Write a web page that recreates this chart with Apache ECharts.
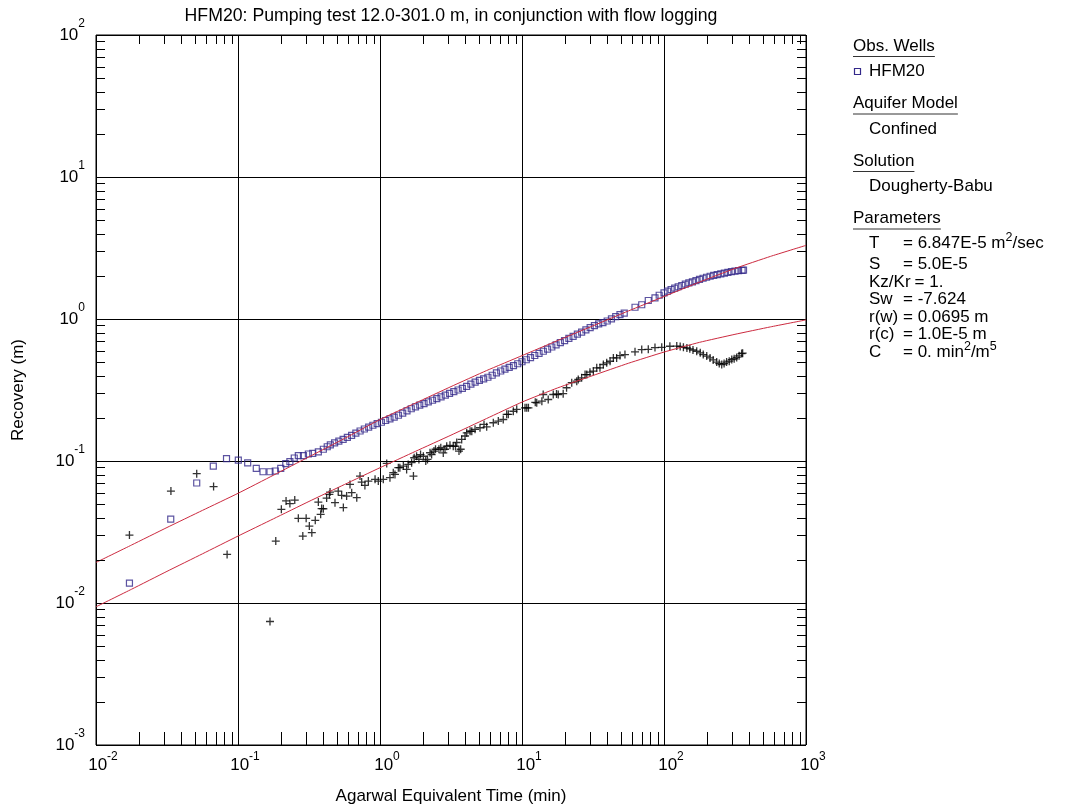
<!DOCTYPE html>
<html>
<head>
<meta charset="utf-8">
<script src="https://cdn.jsdelivr.net/npm/echarts@6/dist/echarts.min.js"></script>
<style>html,body{margin:0;padding:0;background:#fff}#chart{width:1070px;height:810px}</style>
</head>
<body>
<div id="chart"></div>
<script>
// ---------------- data ----------------
// HFM20 recovery observations: [Agarwal equivalent time (min), recovery (m)]
const hfm20Recovery = [
  [0.0172,0.0138],[0.0336,0.039],[0.0512,0.070],[0.067,0.092],[0.083,0.104],[0.1005,0.1015],
  [0.117,0.097],[0.1345,0.0887],[0.150,0.084],[0.168,0.084],[0.183,0.085],[0.200,0.0887],
  [0.217,0.0957],[0.232,0.099],[0.249,0.105],[0.266,0.109],[0.289,0.109],[0.313,0.112],
  [0.336,0.113],[0.368,0.116],[0.399,0.121],[0.425,0.126],
  [0.447,0.130],[0.479,0.134],[0.513,0.138],[0.550,0.142],[0.589,0.1466],[0.631,0.1517],
  [0.676,0.157],[0.724,0.1626],[0.776,0.168],[0.832,0.1734],[0.891,0.1786],[0.955,0.1832],
  [1.023,0.1875],[1.096,0.1928],[1.175,0.1982],[1.259,0.2037],[1.349,0.2099],[1.445,0.2173],
  [1.549,0.2254],[1.660,0.2333],[1.778,0.2404],[1.905,0.2472],[2.042,0.2535],[2.188,0.2606],
  [2.344,0.2679],[2.512,0.2754],[2.692,0.2831],[2.884,0.2911],[3.090,0.2992],[3.311,0.3076],
  [3.548,0.3162],[3.802,0.3251],[4.074,0.3357],[4.365,0.3483],[4.677,0.3597],[5.012,0.3698],
  [5.370,0.3793],[5.754,0.3890],[6.166,0.4018],[6.607,0.4169],[7.079,0.4305],[7.586,0.4436],
  [8.128,0.4560],[8.710,0.4688],[9.333,0.4842],[10.0,0.5000],[10.72,0.5164],[11.48,0.5346],
  [12.30,0.5534],[13.18,0.5728],[14.13,0.5929],[15.14,0.6138],[16.22,0.6353],[17.38,0.6577],
  [18.62,0.6808],[19.95,0.7047],[21.38,0.7295],[22.91,0.7551],[24.55,0.7816],[26.30,0.8091],
  [28.18,0.8375],[30.20,0.8690],[32.36,0.8974],[34.67,0.9226],[37.15,0.9441],[39.81,0.9683],
  [42.66,1.002],[45.71,1.038],[48.98,1.072],[52.48,1.099],
  [62.5,1.21],[69.7,1.26],[77.5,1.35],[86.4,1.41],[92.5,1.47],
  [100,1.528],[105.9,1.570],[112.2,1.614],[118.9,1.652],[125.9,1.687],[133.4,1.722],
  [141.3,1.758],[149.6,1.795],[158.5,1.828],[167.9,1.862],[177.8,1.901],[188.4,1.936],
  [199.5,1.968],[211.3,2.000],[223.9,2.028],[237.1,2.056],[251.2,2.080],[266.1,2.104],
  [281.8,2.128],[298.5,2.153],[316.2,2.173],[335.0,2.188],[354.8,2.203],[363,2.208]
];

// HFM20 recovery derivative (crosses): [time (min), derivative (m)]
const hfm20Derivative = [
  [0.0172,0.0301],[0.0337,0.0614],[0.0512,0.0814],[0.0673,0.066],[0.0838,0.0220],[0.168,0.00741],
  [0.1845,0.0273],[0.202,0.0457],[0.218,0.0523],[0.232,0.0501],[0.251,0.0531],[0.266,0.0395],
  [0.286,0.0296],[0.302,0.0395],[0.318,0.0348],[0.331,0.0313],[0.350,0.0382],[0.368,0.0514],
  [0.382,0.0421],[0.388,0.0462],[0.399,0.0461],[0.421,0.0548],[0.440,0.0582],[0.445,0.0604],
  [0.482,0.0509],[0.508,0.0614],[0.537,0.0573],[0.552,0.0470],[0.582,0.0566],[0.615,0.0684],
  [0.632,0.0598],[0.686,0.0552],[0.723,0.0783],[0.743,0.0711],[0.783,0.0673],[0.828,0.0722],
  [0.923,0.0743],[0.973,0.0722],[1.055,0.0743],[1.115,0.0962],[1.175,0.0763],[1.24,0.0828],
  [1.275,0.0805],[1.346,0.0897],[1.38,0.0897],[1.46,0.0921],[1.54,0.0873],[1.58,0.0946],
  [1.67,0.0973],[1.72,0.0783],[1.74,0.1054],[1.81,0.108],[1.88,0.1026],[1.93,0.111],
  [2.02,0.108],[2.10,0.0998],[2.16,0.1026],[2.25,0.1143],[2.31,0.111],[2.40,0.1175],
  [2.46,0.121],[2.60,0.121],[2.68,0.124],[2.79,0.114],[2.87,0.121],[2.95,0.127],
  [3.11,0.129],[3.28,0.127],[3.40,0.127],[3.47,0.135],[3.60,0.1175],[3.70,0.121],
  [3.76,0.142],[3.97,0.150],[4.08,0.158],[4.31,0.162],[4.43,0.162],[4.67,0.167],
  [5.06,0.1715],[5.40,0.181],[5.64,0.174],[6.28,0.186],[6.81,0.191],[7.38,0.196],
  [7.80,0.213],[8.01,0.213],[8.69,0.224],[9.18,0.231],[10.5,0.237],[10.8,0.237],
  [11.1,0.237],[12.4,0.259],[12.7,0.257],[13.8,0.264],[14.1,0.294],[15.3,0.271],
  [16.6,0.294],[17.5,0.296],[18.0,0.294],[19.5,0.298],[20.6,0.328],[22.4,0.356],
  [24.3,0.365],[24.9,0.375],[26.3,0.385],[27.8,0.406],[28.6,0.406],[30.1,0.422],
  [31.8,0.429],[33.6,0.453],[35.4,0.453],[37.4,0.478],[39.5,0.491],[41.7,0.504],
  [44.0,0.532],[46.4,0.532],[49.0,0.553],[53.1,0.562],[62.5,0.587],[69.7,0.609],
  [77.5,0.612],[86.4,0.629],[96.4,0.632],[110,0.643],[123,0.645],[130,0.640],
  [137,0.632],[145,0.625],[152,0.617],[160,0.605],[170,0.593],[180,0.578],
  [189,0.562],[200,0.548],[211,0.532],[222,0.515],[235,0.497],[245,0.485],
  [255,0.478],[265,0.485],[276,0.497],[288,0.505],[300,0.518],[312,0.525],
  [325,0.536],[338,0.550],[352,0.571],[358,0.575]
];

// Dougherty-Babu type curves (red), quarter-decade readings
const solutionTime = [0.01, 0.0178, 0.0316, 0.0562, 0.1, 0.178, 0.316, 0.562, 1, 1.78, 3.16, 5.62,
                      10, 17.8, 31.6, 56.2, 100, 178, 316, 562, 1000];
const solutionRecovery = [0.0193, 0.0256, 0.034, 0.0449, 0.0592, 0.0795, 0.107, 0.144, 0.196, 0.256,
                          0.334, 0.433, 0.552, 0.705, 0.895, 1.14, 1.44, 1.82, 2.27, 2.76, 3.3];
const solutionDerivative = [0.0094, 0.0125, 0.0167, 0.0222, 0.0296, 0.0392, 0.0519, 0.0683, 0.0897, 0.117,
                            0.152, 0.199, 0.260, 0.327, 0.400, 0.488, 0.585, 0.685, 0.78, 0.88, 0.985];

// axes
const xDecades = [-2, -1, 0, 1, 2, 3];
const yDecades = [-3, -2, -1, 0, 1, 2];
const minorSteps = [2, 3, 4, 5, 6, 7, 8, 9];

// side panel text
const headings = ['Obs. Wells', 'Aquifer Model', 'Solution', 'Parameters'];
const headingEntries = ['HFM20', 'Confined', 'Dougherty-Babu'];
const paramNames  = ['T', 'S', 'Kz/Kr', 'Sw', 'r(w)', 'r(c)', 'C'];
const paramValues = ['= 6.847E-5 m{s|2}/sec', '= 5.0E-5', '= 1.', '= -7.624', '= 0.0695 m', '= 1.0E-5 m', '= 0. min{s|2}/m{s|5}'];
const titleText = 'HFM20: Pumping test 12.0-301.0 m, in conjunction with flow logging';

// ---------------- chart ----------------
const F = '"Liberation Sans", Arial, Helvetica, sans-serif';
const BLUE = '#33288a';
const RED = '#cc2a3f';

const xMin = Math.pow(10, xDecades[0]), xMax = Math.pow(10, xDecades[xDecades.length - 1]);
const yMin = Math.pow(10, yDecades[0]), yMax = Math.pow(10, yDecades[yDecades.length - 1]);

const xMinor = [];
xDecades.slice(0, -1).forEach(e => minorSteps.forEach(k => xMinor.push([k * Math.pow(10, e), 1])));
const yMinor = [];
yDecades.slice(0, -1).forEach(e => minorSteps.forEach(k => yMinor.push([1, k * Math.pow(10, e)])));

function powRich(lh) {
  return {
    b: { fontSize: 17, fontFamily: F, color: '#000', lineHeight: lh, verticalAlign: 'bottom' },
    s: { fontSize: 12, fontFamily: F, color: '#000', lineHeight: 12, verticalAlign: 'top' }
  };
}
const powFmt = v => '{b|10}{s|' + Math.round(Math.log10(v)) + '}';

const canvas = document.createElement('canvas');
const mctx = canvas.getContext('2d');
function textWidth(t, size) { mctx.font = size + 'px "Liberation Sans", Arial, sans-serif'; return mctx.measureText(t).width; }

const PX = 853, PX2 = 869, EQX = 903, FS = 17;
const graphics = [];
graphics.push({ type: 'text', x: 451, y: 16, style: { text: titleText, fill: '#000', fontSize: 17.7, fontFamily: F, align: 'center', verticalAlign: 'middle' } });
const headY = [46, 103.5, 161, 218.5];
headings.forEach((h, i) => {
  const y = headY[i];
  graphics.push({ type: 'text', x: PX, y: y, style: { text: h, fill: '#000', fontSize: FS, fontFamily: F, align: 'left', verticalAlign: 'middle' } });
  const w = textWidth(h, FS);
  graphics.push({ type: 'line', shape: { x1: PX, y1: y + 10.5, x2: PX + w, y2: y + 10.5 }, style: { stroke: '#333', lineWidth: 1 } });
});
headingEntries.forEach((t, i) => {
  graphics.push({ type: 'text', x: PX2, y: headY[i] + 25.5, style: { text: t, fill: '#000', fontSize: FS, fontFamily: F, align: 'left', verticalAlign: 'middle' } });
});
// legend symbol for HFM20
graphics.push({ type: 'rect', shape: { x: 854.5, y: 68.5, width: 6, height: 6 }, style: { fill: 'none', stroke: BLUE, lineWidth: 1.2 } });

const paramY = [243, 264, 282, 299.5, 317, 334.5, 352];
const paramRich = {
  n: { fontSize: FS, fontFamily: F, color: '#000', lineHeight: 20, verticalAlign: 'bottom' },
  s: { fontSize: 12.5, fontFamily: F, color: '#000', lineHeight: 12, verticalAlign: 'top' }
};
paramNames.forEach((n, i) => {
  const y = paramY[i];
  graphics.push({ type: 'text', x: PX2, y: y, style: { text: n, fill: '#000', fontSize: FS, fontFamily: F, align: 'left', verticalAlign: 'middle' } });
  const vx = (n === 'Kz/Kr') ? PX2 + textWidth(n, FS) + 4 : EQX;
  const raw = paramValues[i];
  if (raw.indexOf('{s|') >= 0) {
    const txt = '{n|' + raw.replace(/\{s\|(\d)\}/g, '}{s|$1}{n|') + '}';
    graphics.push({ type: 'text', x: vx, y: y - 1.5, style: {
      text: txt, fill: '#000', fontSize: FS, fontFamily: F, align: 'left', verticalAlign: 'middle', rich: paramRich
    } });
  } else {
    graphics.push({ type: 'text', x: vx, y: y, style: { text: raw, fill: '#000', fontSize: FS, fontFamily: F, align: 'left', verticalAlign: 'middle' } });
  }
});

const chart = echarts.init(document.getElementById('chart'), null, { renderer: 'canvas' });
chart.setOption({
  animation: false,
  backgroundColor: '#fff',
  grid: { left: 96, right: 264, top: 35, bottom: 64, show: true, borderColor: '#000', borderWidth: 1, backgroundColor: 'transparent' },
  xAxis: {
    type: 'log', logBase: 10, min: xMin, max: xMax, splitNumber: 5,
    name: 'Agarwal Equivalent Time (min)', nameLocation: 'middle', nameGap: 43,
    nameTextStyle: { fontSize: FS, fontFamily: F, color: '#000' },
    axisLine: { show: false }, axisTick: { show: false },
    splitLine: { show: true, lineStyle: { color: '#000', width: 1 } },
    axisLabel: { formatter: powFmt, rich: powRich(23), margin: 6, padding: [0, 0, 0, 14], showMinLabel: true, showMaxLabel: true }
  },
  yAxis: {
    type: 'log', logBase: 10, min: yMin, max: yMax, splitNumber: 5,
    name: 'Recovery (m)', nameLocation: 'middle', nameGap: 69,
    nameTextStyle: { fontSize: FS, fontFamily: F, color: '#000' },
    axisLine: { show: false }, axisTick: { show: false },
    splitLine: { show: true, lineStyle: { color: '#000', width: 1 } },
    axisLabel: { formatter: powFmt, rich: powRich(26), margin: 11, padding: [0, 0, 9, 0], showMinLabel: true, showMaxLabel: true }
  },
  graphic: graphics,
  series: [
    {
      name: 'Solution', type: 'line', silent: true, showSymbol: false, smooth: 0.15,
      lineStyle: { color: RED, width: 1 },
      data: solutionTime.map((t, i) => [t, solutionRecovery[i]]), z: 3
    },
    {
      name: 'Solution derivative', type: 'line', silent: true, showSymbol: false, smooth: 0.15,
      lineStyle: { color: RED, width: 1 },
      data: solutionTime.map((t, i) => [t, solutionDerivative[i]]), z: 3
    },
    {
      name: 'HFM20', type: 'scatter', silent: true, symbol: 'rect', symbolSize: 6,
      itemStyle: { color: 'rgba(0,0,0,0)', borderColor: BLUE, borderWidth: 1.2 },
      data: hfm20Recovery, z: 2
    },
    {
      name: 'HFM20 derivative', type: 'scatter', silent: true, symbol: 'path://M0,5L10,5M5,0L5,10', symbolSize: 8,
      itemStyle: { color: 'rgba(0,0,0,0)', borderColor: '#000', borderWidth: 1.3 },
      data: hfm20Derivative, z: 2
    },
    {
      name: 'xMinorTicks', type: 'custom', silent: true, z: 5, clip: false,
      data: xMinor,
      renderItem: function (params, api) {
        const cs = params.coordSys;
        const x = Math.round(api.coord([api.value(0), 1])[0]) + 0.5;
        return { type: 'group', children: [
          { type: 'line', shape: { x1: x, y1: cs.y + cs.height, x2: x, y2: cs.y + cs.height - 13 }, style: { stroke: '#000', lineWidth: 1 } },
          { type: 'line', shape: { x1: x, y1: cs.y, x2: x, y2: cs.y + 9 }, style: { stroke: '#000', lineWidth: 1 } }
        ] };
      }
    },
    {
      name: 'yMinorTicks', type: 'custom', silent: true, z: 5, clip: false,
      data: yMinor,
      renderItem: function (params, api) {
        const cs = params.coordSys;
        const y = Math.round(api.coord([1, api.value(1)])[1]) + 0.5;
        const L = 9;
        return { type: 'group', children: [
          { type: 'line', shape: { x1: cs.x, y1: y, x2: cs.x + L, y2: y }, style: { stroke: '#000', lineWidth: 1 } },
          { type: 'line', shape: { x1: cs.x + cs.width, y1: y, x2: cs.x + cs.width - L, y2: y }, style: { stroke: '#000', lineWidth: 1 } }
        ] };
      }
    }
  ]
});
</script>
</body>
</html>
